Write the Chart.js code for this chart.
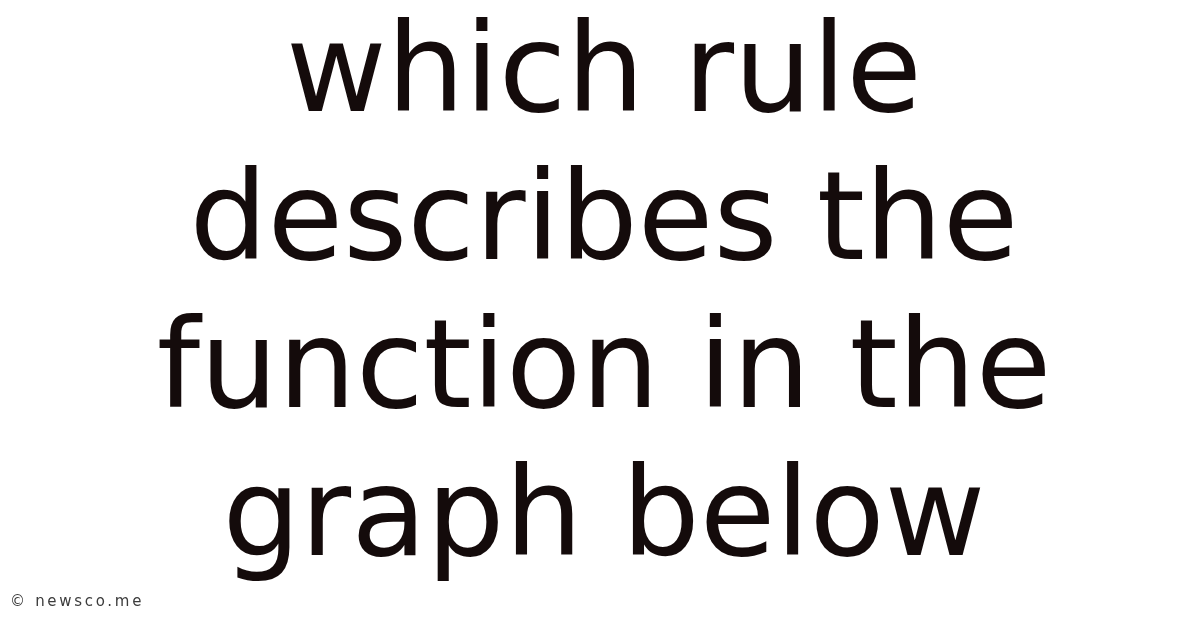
<!DOCTYPE html>
<html>
<head>
<meta charset="utf-8">
<script src="https://cdn.jsdelivr.net/npm/chart.js@4/dist/chart.umd.min.js"></script>
<style>
  html, body { margin: 0; padding: 0; background: #fff; }
  #wrap { width: 1200px; height: 628px; position: relative; }
</style>
</head>
<body>
<div id="wrap"><canvas id="card"></canvas></div>
<script>
// texto do cartão (não há séries de dados nesta imagem)
const titleLines = ['which rule', 'describes the', 'function in the', 'graph below'];
const categories = [];
const seriesValues = [];
const creditText = '© newsco.me';

// desenha o crédito no canto inferior esquerdo
const creditPlugin = {
    id: 'credit',
    afterDraw: (chart) => {
        const ctx = chart.ctx;
        ctx.save();
        ctx.font = '15px "DejaVu Sans"';
        ctx.letterSpacing = '2.7px';
        ctx.fillStyle = '#3c3c3c';
        ctx.textBaseline = 'middle';
        ctx.fillText(creditText, 10, 602);
        ctx.restore();
    }
};

const ctx = document.getElementById('card').getContext('2d');
new Chart(ctx, {
    type: 'bar',
    data: {
        labels: categories,
        datasets: [{ data: seriesValues }]
    },
    options: {
        responsive: true,
        maintainAspectRatio: false,
        animation: false,
        layout: { padding: { left: 8, top: 0, right: 0, bottom: 0 } },
        scales: {
            x: { display: false },
            y: { display: false }
        },
        plugins: {
            legend: { display: false },
            tooltip: { enabled: false },
            title: {
                display: true,
                text: titleLines,
                color: '#140b0b',
                font: { family: '"DejaVu Sans"', size: 123, weight: 'normal', lineHeight: 1.203 },
                padding: { top: 5, bottom: 0 }
            }
        }
    },
    plugins: [creditPlugin]
});
</script>
</body>
</html>
